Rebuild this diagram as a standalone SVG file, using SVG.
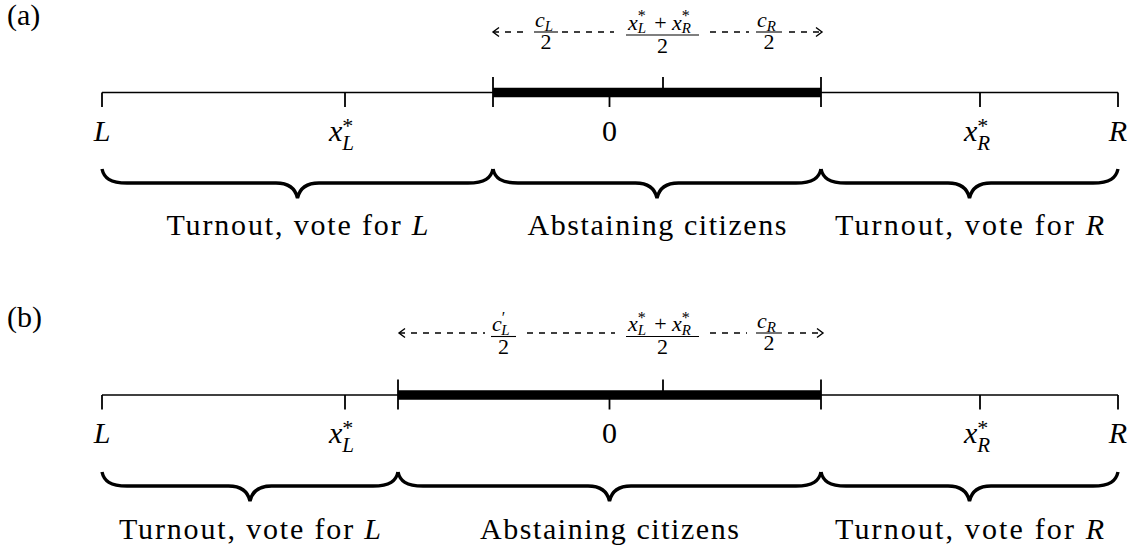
<svg xmlns="http://www.w3.org/2000/svg" width="1140" height="552" viewBox="0 0 1140 552">
<defs>
<marker id="chev" markerUnits="userSpaceOnUse" markerWidth="12" markerHeight="12" viewBox="0 0 12 12" refX="9" refY="6" orient="auto-start-reverse">
<path d="M3,1.5 L9,6 L3,10.5" fill="none" stroke="#000" stroke-width="1.4"/>
</marker>
</defs>

<g id="label-a"><text font-family="Liberation Serif" font-size="30" x="7" y="25">(a)</text></g>
<g id="axis-a" stroke="#000" fill="none">
<line stroke-width="1.6" x1="102" y1="92.5" x2="1118" y2="92.5"/>
<line stroke-width="9.5" x1="493" y1="92.5" x2="821" y2="92.5"/>
<g stroke-width="1.8">
<line x1="102" y1="92.5" x2="102" y2="107"/>
<line x1="345" y1="92.5" x2="345" y2="107"/>
<line x1="493" y1="77" x2="493" y2="107"/>
<line x1="821" y1="77" x2="821" y2="107"/>
<line x1="663" y1="77" x2="663" y2="92.5"/>
<line x1="609.5" y1="92.5" x2="609.5" y2="107"/>
<line x1="980" y1="92.5" x2="980" y2="107"/>
<line x1="1118" y1="92.5" x2="1118" y2="107"/>
</g>
</g>
<g id="ticklabels-a">
<text font-family="Liberation Serif" font-size="30" font-style="italic" text-anchor="middle" x="102" y="141">L</text>
<text font-family="Liberation Serif" font-size="30" font-style="italic" x="329" y="141">x<tspan font-size="22" font-style="normal" dy="-8">*</tspan><tspan font-size="21" dx="-11" dy="17">L</tspan></text>
<text font-family="Liberation Serif" font-size="30" text-anchor="middle" x="609.5" y="141">0</text>
<text font-family="Liberation Serif" font-size="30" font-style="italic" x="964" y="141">x<tspan font-size="22" font-style="normal" dy="-8">*</tspan><tspan font-size="21" dx="-11" dy="17">R</tspan></text>
<text font-family="Liberation Serif" font-size="30" font-style="italic" text-anchor="middle" x="1118" y="141">R</text>
</g>
<g id="frac-cL-a">
<text font-family="Liberation Serif" font-size="22" font-style="italic" x="535" y="27">c<tspan font-size="15" dy="3.5">L</tspan></text>
<line stroke="#000" stroke-width="1.1" x1="534" y1="32" x2="558" y2="32"/>
<text font-family="Liberation Serif" font-size="22" text-anchor="middle" x="546" y="48.5">2</text>
</g>
<g id="frac-mid-a">
<text font-family="Liberation Serif" font-size="22" font-style="italic" x="628" y="29.5">x<tspan font-size="16" font-style="normal" dy="-8.5">*</tspan><tspan font-size="15" dx="-8" dy="12">L</tspan></text>
<text font-family="Liberation Serif" font-size="22" text-anchor="middle" x="660.5" y="29.5">+</text>
<text font-family="Liberation Serif" font-size="22" font-style="italic" x="672" y="29.5">x<tspan font-size="16" font-style="normal" dy="-8.5">*</tspan><tspan font-size="15" dx="-8" dy="12">R</tspan></text>
<line stroke="#000" stroke-width="1.1" x1="626" y1="35" x2="699" y2="35"/>
<text font-family="Liberation Serif" font-size="22" text-anchor="middle" x="662.5" y="52.5">2</text>
</g>
<g id="frac-cR-a">
<text font-family="Liberation Serif" font-size="22" font-style="italic" x="757" y="27">c<tspan font-size="15" dy="3.5">R</tspan></text>
<line stroke="#000" stroke-width="1.1" x1="756" y1="32" x2="782" y2="32"/>
<text font-family="Liberation Serif" font-size="22" text-anchor="middle" x="769" y="48.5">2</text>
</g>
<g id="braces-a" stroke="#000" stroke-width="3.4" fill="none">
<path d="M102,169 C104,178 110,183 127,183 H276 C287,183 295,187 297.5,198 C300,187 308,183 319,183 H468 C485,183 491,178 493,169"/>
<path d="M493,169 C495,178 501,183 518,183 H635.5 C646.5,183 654.5,187 657,198 C659.5,187 667.5,183 678.5,183 H796 C813,183 819,178 821,169"/>
<path d="M821,169 C823,178 829,183 846,183 H948 C959,183 967,187 969.5,198 C972,187 980,183 991,183 H1093 C1110,183 1116,178 1118,169"/>
</g>
<g id="brace-labels-a">
<text font-family="Liberation Serif" font-size="30" text-anchor="middle" x="297.5" y="235" textLength="262" lengthAdjust="spacing">Turnout, vote for <tspan font-style="italic">L</tspan></text>
<text font-family="Liberation Serif" font-size="30" text-anchor="middle" x="657" y="235" textLength="259" lengthAdjust="spacing">Abstaining citizens</text>
<text font-family="Liberation Serif" font-size="30" text-anchor="middle" x="969.5" y="235" textLength="269" lengthAdjust="spacing">Turnout, vote for <tspan font-style="italic">R</tspan></text>
</g>

<g id="label-b"><text font-family="Liberation Serif" font-size="30" x="7" y="327">(b)</text></g>
<g id="axis-b" stroke="#000" fill="none">
<line stroke-width="1.6" x1="102" y1="395" x2="1118" y2="395"/>
<line stroke-width="9.5" x1="398" y1="395" x2="821" y2="395"/>
<g stroke-width="1.8">
<line x1="102" y1="395" x2="102" y2="409.5"/>
<line x1="345" y1="395" x2="345" y2="409.5"/>
<line x1="398" y1="379.5" x2="398" y2="409.5"/>
<line x1="821" y1="379.5" x2="821" y2="409.5"/>
<line x1="663" y1="379.5" x2="663" y2="395"/>
<line x1="609.5" y1="395" x2="609.5" y2="409.5"/>
<line x1="980" y1="395" x2="980" y2="409.5"/>
<line x1="1118" y1="395" x2="1118" y2="409.5"/>
</g>
</g>
<g id="ticklabels-b">
<text font-family="Liberation Serif" font-size="30" font-style="italic" text-anchor="middle" x="102" y="442.5">L</text>
<text font-family="Liberation Serif" font-size="30" font-style="italic" x="329" y="442.5">x<tspan font-size="22" font-style="normal" dy="-8">*</tspan><tspan font-size="21" dx="-11" dy="17">L</tspan></text>
<text font-family="Liberation Serif" font-size="30" text-anchor="middle" x="609.5" y="442.5">0</text>
<text font-family="Liberation Serif" font-size="30" font-style="italic" x="964" y="442.5">x<tspan font-size="22" font-style="normal" dy="-8">*</tspan><tspan font-size="21" dx="-11" dy="17">R</tspan></text>
<text font-family="Liberation Serif" font-size="30" font-style="italic" text-anchor="middle" x="1118" y="442.5">R</text>
</g>
<g id="frac-cL-b">
<text font-family="Liberation Serif" font-size="22" font-style="italic" x="492" y="331">c<tspan font-size="16" font-style="normal" dy="-8">&#8242;</tspan><tspan font-size="15" dx="-4" dy="11.5">L</tspan></text>
<line stroke="#000" stroke-width="1.1" x1="491" y1="336.5" x2="516" y2="336.5"/>
<text font-family="Liberation Serif" font-size="22" text-anchor="middle" x="503.5" y="354">2</text>
</g>
<g id="frac-mid-b">
<text font-family="Liberation Serif" font-size="22" font-style="italic" x="628" y="331">x<tspan font-size="16" font-style="normal" dy="-8.5">*</tspan><tspan font-size="15" dx="-8" dy="12">L</tspan></text>
<text font-family="Liberation Serif" font-size="22" text-anchor="middle" x="660.5" y="331">+</text>
<text font-family="Liberation Serif" font-size="22" font-style="italic" x="672" y="331">x<tspan font-size="16" font-style="normal" dy="-8.5">*</tspan><tspan font-size="15" dx="-8" dy="12">R</tspan></text>
<line stroke="#000" stroke-width="1.1" x1="626" y1="336.5" x2="699" y2="336.5"/>
<text font-family="Liberation Serif" font-size="22" text-anchor="middle" x="662.5" y="354">2</text>
</g>
<g id="frac-cR-b">
<text font-family="Liberation Serif" font-size="22" font-style="italic" x="757" y="328">c<tspan font-size="15" dy="3.5">R</tspan></text>
<line stroke="#000" stroke-width="1.1" x1="756" y1="333" x2="782" y2="333"/>
<text font-family="Liberation Serif" font-size="22" text-anchor="middle" x="769" y="349.5">2</text>
</g>
<g id="braces-b" stroke="#000" stroke-width="3.4" fill="none">
<path d="M102,472 C104,481 110,486 127,486 H228.5 C239.5,486 247.5,490 250,501 C252.5,490 260.5,486 271.5,486 H373 C390,486 396,481 398,472"/>
<path d="M398,472 C400,481 406,486 423,486 H588 C599,486 607,490 609.5,501 C612,490 620,486 631,486 H796 C813,486 819,481 821,472"/>
<path d="M821,472 C823,481 829,486 846,486 H948 C959,486 967,490 969.5,501 C972,490 980,486 991,486 H1093 C1110,486 1116,481 1118,472"/>
</g>
<g id="brace-labels-b">
<text font-family="Liberation Serif" font-size="30" text-anchor="middle" x="250" y="538.5" textLength="262" lengthAdjust="spacing">Turnout, vote for <tspan font-style="italic">L</tspan></text>
<text font-family="Liberation Serif" font-size="30" text-anchor="middle" x="609.5" y="538.5" textLength="259" lengthAdjust="spacing">Abstaining citizens</text>
<text font-family="Liberation Serif" font-size="30" text-anchor="middle" x="969.5" y="538.5" textLength="269" lengthAdjust="spacing">Turnout, vote for <tspan font-style="italic">R</tspan></text>
</g>

<g id="connectors" stroke="#000" stroke-width="1.4" fill="none" stroke-dasharray="6 6">
<path d="M493,32 H528" marker-start="url(#chev)"/>
<path d="M562,32 H614"/>
<path d="M710,32 H749"/>
<path d="M789,32 H822" marker-end="url(#chev)"/>
<path d="M399,333 H485" marker-start="url(#chev)"/>
<path d="M527,333 H615"/>
<path d="M710,333 H747"/>
<path d="M788,333 H823" marker-end="url(#chev)"/>
</g>
</svg>
